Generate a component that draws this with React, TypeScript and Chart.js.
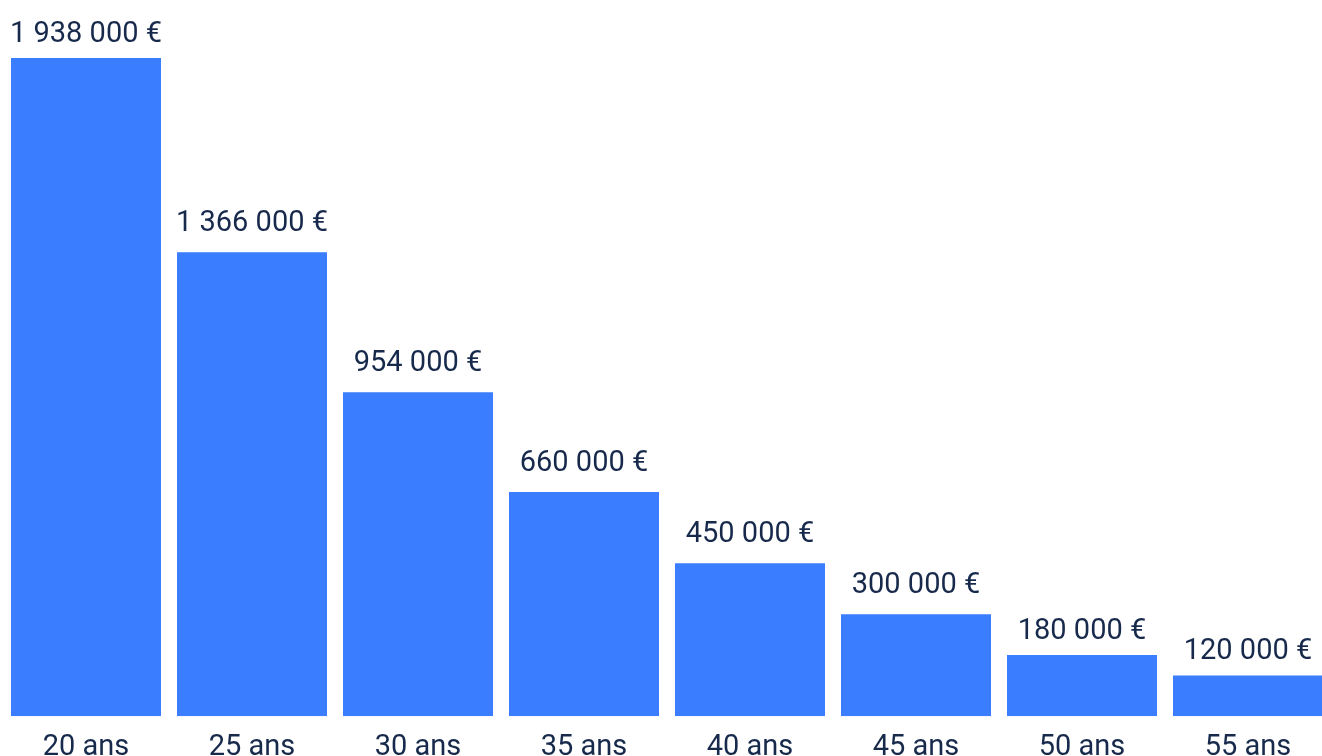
import React, { useEffect, useRef } from "react";
import { Chart, registerables } from "chart.js";

Chart.register(...registerables);

const categories = ["20 ans", "25 ans", "30 ans", "35 ans", "40 ans", "45 ans", "50 ans", "55 ans"];
const values = [1938000, 1366000, 954000, 660000, 450000, 300000, 180000, 120000];

const BAR_COLOR = "#3a7dff";
const TEXT_COLOR = "#172a4c";
const FONT = "Roboto";

function formatEuro(v: number): string {
  const s = Math.round(v).toString().replace(/\B(?=(\d{3})+(?!\d))/g, " ");
  return s + " €";
}

const valueLabels = {
  id: "valueLabels",
  afterDatasetsDraw(chart: any) {
    const ctx = chart.ctx;
    const meta = chart.getDatasetMeta(0);
    ctx.save();
    ctx.font = `29px ${FONT}`;
    ctx.fillStyle = TEXT_COLOR;
    ctx.textAlign = "center";
    ctx.textBaseline = "alphabetic";
    meta.data.forEach((bar: any, i: number) => {
      const v = chart.data.datasets[0].data[i] as number;
      const h = bar.base - bar.y;
      const off = h < 80 ? 16 : 21;
      const y = Math.max(42, bar.y - off);
      ctx.fillText(formatEuro(v), bar.x, y);
    });
    ctx.restore();
  },
};

export default function App() {
  const ref = useRef<HTMLCanvasElement>(null);
  useEffect(() => {
    if (!ref.current) return;
    const chart = new Chart(ref.current, {
      type: "bar",
      data: {
        labels: categories,
        datasets: [
          {
            data: values,
            backgroundColor: BAR_COLOR,
            borderWidth: 0,
            categoryPercentage: 1,
            barPercentage: 150 / 166,
          },
        ],
      },
      options: {
        animation: false,
        responsive: true,
        maintainAspectRatio: false,
        layout: { padding: { top: 58, left: 3, right: 0, bottom: 0 } },
        plugins: {
          legend: { display: false },
          tooltip: { enabled: false },
        },
        scales: {
          x: {
            grid: { display: false, drawTicks: false },
            border: { display: false },
            ticks: {
              color: TEXT_COLOR,
              font: { family: FONT, size: 29 },
              padding: 14,
              maxRotation: 0,
              autoSkip: false,
            },
          },
          y: {
            display: false,
            min: 0,
            max: Math.max(...values),
          },
        },
      },
      plugins: [valueLabels],
    });
    return () => chart.destroy();
  }, []);

  return (
    <div style={{ position: "fixed", left: 0, top: 0, width: "100vw", height: "100vh", overflow: "hidden", background: "#fff" }}>
      <div style={{ position: "absolute", left: 0, top: 0, width: 1331, height: 779 }}>
        <canvas ref={ref} />
      </div>
    </div>
  );
}
